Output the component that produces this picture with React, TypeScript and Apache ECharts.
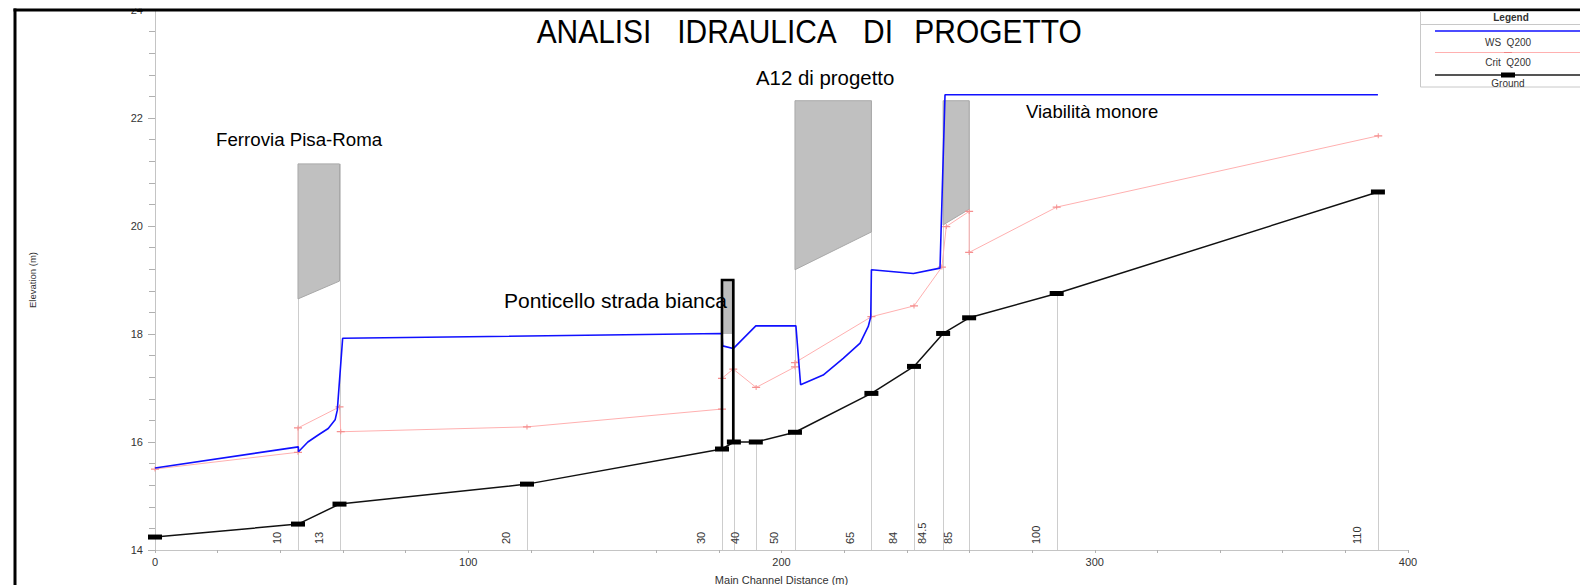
import React, { useEffect, useRef } from 'react';
import * as echarts from 'echarts';

const FONT = '"Liberation Sans", Arial, Helvetica, sans-serif';

// Channel invert (ground) at each cross-section, main channel distance (m) / elevation (m)
const groundDistance = [0, 45.65, 58.9, 118.75, 181.0, 184.8, 191.8, 204.3, 228.7, 242.3, 251.6, 259.9, 287.85, 390.4];
const groundElevation = [14.24, 14.48, 14.85, 15.22, 15.87, 16.0, 16.0, 16.18, 16.9, 17.4, 18.01, 18.3, 18.75, 20.63];

// Water surface profile, Q200
const wsDistance = [0, 45.75, 45.8, 48.8, 52.1, 55.3, 57.5, 58.2, 59.9, 181.0, 181.2, 184.6, 191.8, 204.6, 206.1, 213.3, 219.7, 225.1, 227.7, 228.5, 228.7, 242.1, 250.6, 252.2, 390.4];
const wsElevation = [15.52, 15.91, 15.82, 16.0, 16.13, 16.25, 16.41, 16.59, 17.92, 18.01, 17.78, 17.73, 18.15, 18.15, 17.06, 17.24, 17.55, 17.83, 18.14, 18.32, 19.19, 19.12, 19.22, 22.43, 22.43];

// Critical depth elevation, Q200
const critDistance = [0, 45.65, 45.65, 58.9, 59.3, 118.75, 181.0, 181.0, 184.6, 191.9, 204.3, 204.3, 228.7, 242.3, 251.2, 252.6, 259.9, 259.9, 287.85, 390.5];
const critElevation = [15.5, 15.81, 16.26, 16.65, 16.19, 16.28, 16.61, 17.18, 17.35, 17.01, 17.39, 17.47, 18.32, 18.52, 19.24, 19.99, 20.27, 19.51, 20.35, 21.67];

// River stations: label, distance and top of the station marker line
const sectionLabels = ['10', '13', '20', '30', '', '40', '50', '65', '84', '84.5', '85', '100', '110'];
const sectionDistance = [45.65, 58.9, 118.75, 181.0, 184.8, 191.8, 204.3, 228.7, 242.3, 251.6, 259.9, 287.85, 390.4];
const sectionTop = [21.15, 21.15, 15.22, 19.0, 19.0, 16.0, 22.32, 22.32, 17.4, 22.32, 22.32, 18.75, 20.63];

// Bridge decks
const bridgeStart = [45.65, 204.3, 251.6];
const bridgeEnd = [58.9, 228.7, 259.9];
const bridgeTop = [21.15, 22.32, 22.32];
const bridgeLowStart = [18.65, 19.19, 20.02];
const bridgeLowEnd = [18.98, 19.89, 20.31];

// Small bridge with walls down to the bed
const culvertStart = [181.0];
const culvertEnd = [184.6];
const culvertTop = [19.0];
const culvertLow = [18.0];
const culvertBedStart = [15.87];
const culvertBedEnd = [16.0];

// Axis ticks
const yTicks = { min: 14, max: 24, step: 2 };
const xTicks = { min: 0, max: 400, step: 100 };

const titleWords = ['ANALISI', 'IDRAULICA', 'DI', 'PROGETTO'];
const titleCenters = [594, 757, 878, 998];

const notes = ['Ferrovia Pisa-Roma', 'Ponticello strada bianca', 'A12 di progetto', 'Viabilità monore'];
const noteSizes = [18.7, 21, 20.4, 18.5];
const notePos: [number, number][] = [[216, 139], [504, 300], [756, 78], [1026, 111]];

const legendNames = ['WS  Q200', 'Crit  Q200', 'Ground'];

const critSymbol = 'path://M0,2H8V3H0Z M3.5,0.5H4.5V4.5H3.5Z';

export default function App() {
  const ref = useRef<HTMLDivElement>(null);

  useEffect(() => {
    if (!ref.current) return;
    const chart = echarts.init(ref.current, null, { renderer: 'svg', width: 1580, height: 585 });

    const graphic: any[] = [];
    // title
    titleWords.forEach((w, i) => {
      graphic.push({
        type: 'text', x: titleCenters[i], y: 31, scaleX: 0.88, z: 20,
        style: { text: w, fontSize: 34, fontFamily: FONT, fill: '#000', align: 'center', verticalAlign: 'middle' },
      });
    });
    notes.forEach((t, i) => {
      graphic.push({
        type: 'text', x: notePos[i][0], y: notePos[i][1], z: 20,
        style: { text: t, fontSize: noteSizes[i], fontFamily: FONT, fill: '#000', align: 'left', verticalAlign: 'middle' },
      });
    });
    // page frame
    graphic.push({ type: 'rect', shape: { x: 0, y: 0, width: 1580, height: 8.5 }, style: { fill: '#fff' }, z: 30 });
    graphic.push({ type: 'line', shape: { x1: 13.5, y1: 10, x2: 1580, y2: 10 }, style: { stroke: '#000', lineWidth: 3 }, z: 31 });
    graphic.push({ type: 'line', shape: { x1: 15, y1: 8.5, x2: 15, y2: 585 }, style: { stroke: '#000', lineWidth: 3 }, z: 31 });
    // legend box
    graphic.push({ type: 'rect', shape: { x: 1420.5, y: 11.5, width: 200, height: 75.5 }, style: { fill: '#fff', stroke: '#c8c8c8', lineWidth: 1 }, z: 32 });
    graphic.push({ type: 'line', shape: { x1: 1420.5, y1: 24.5, x2: 1580, y2: 24.5 }, style: { stroke: '#c8c8c8', lineWidth: 1 }, z: 33 });
    graphic.push({ type: 'text', x: 1511, y: 17, z: 33, style: { text: 'Legend', fontSize: 10, fontWeight: 'bold', fontFamily: FONT, fill: '#333', align: 'center', verticalAlign: 'middle' } });
    graphic.push({ type: 'line', shape: { x1: 1435, y1: 31, x2: 1580, y2: 31 }, style: { stroke: '#1010ff', lineWidth: 1.5 }, z: 33 });
    graphic.push({ type: 'line', shape: { x1: 1435, y1: 52.5, x2: 1580, y2: 52.5 }, style: { stroke: '#ffb0b0', lineWidth: 1 }, z: 33 });
    graphic.push({ type: 'rect', shape: { x: 1504, y: 52, width: 8, height: 1 }, style: { fill: '#f08080' }, z: 34 });
    graphic.push({ type: 'line', shape: { x1: 1435, y1: 75, x2: 1580, y2: 75 }, style: { stroke: '#555', lineWidth: 2 }, z: 33 });
    graphic.push({ type: 'rect', shape: { x: 1501, y: 72.5, width: 14, height: 5 }, style: { fill: '#000' }, z: 34 });
    [42, 62, 83].forEach((y, i) => {
      graphic.push({ type: 'text', x: 1508, y, z: 33, style: { text: legendNames[i], fontSize: 10, fontFamily: FONT, fill: '#333', align: 'center', verticalAlign: 'middle' } });
    });

    const option: any = {
      animation: false,
      backgroundColor: '#fff',
      grid: { left: 155, width: 1253, top: 10, height: 540, containLabel: false, outerBoundsMode: 'none' },
      xAxis: {
        type: 'value', min: xTicks.min, max: xTicks.max, interval: xTicks.step,
        name: 'Main Channel Distance (m)', nameLocation: 'middle', nameGap: 24,
        nameTextStyle: { fontSize: 11, fontFamily: FONT, color: '#333' },
        axisLine: { show: true, lineStyle: { color: '#c4c4c4', width: 1 } },
        axisTick: { show: true, length: 3, lineStyle: { color: '#b0b0b0' } },
        minorTick: { show: true, splitNumber: 5, length: 3, lineStyle: { color: '#b0b0b0' } },
        axisLabel: { fontSize: 11, fontFamily: FONT, color: '#333', margin: 6 },
        splitLine: { show: false },
      },
      yAxis: {
        type: 'value', min: yTicks.min, max: yTicks.max, interval: yTicks.step,
        name: 'Elevation (m)', nameLocation: 'middle', nameGap: 118,
        nameTextStyle: { fontSize: 9.5, fontFamily: FONT, color: '#333' },
        axisLine: { show: true, lineStyle: { color: '#c4c4c4', width: 1 } },
        axisTick: { show: true, length: 7, lineStyle: { color: '#b0b0b0' } },
        minorTick: { show: true, splitNumber: 5, length: 6, lineStyle: { color: '#b0b0b0' } },
        axisLabel: { fontSize: 11, fontFamily: FONT, color: '#333', margin: 12 },
        splitLine: { show: false },
      },
      graphic,
      series: [
        {
          // station lines and river station labels
          type: 'custom', silent: true, z: 1,
          data: sectionDistance.map((x, i) => [x, sectionTop[i]]),
          renderItem: (params: any, api: any) => {
            const x = api.value(0);
            const top = api.value(1);
            const b = api.coord([x, yTicks.min]);
            const t = api.coord([x, top]);
            const children: any[] = [
              { type: 'line', shape: { x1: Math.round(b[0]) + 0.5, y1: b[1], x2: Math.round(b[0]) + 0.5, y2: t[1] }, style: { stroke: '#cdcdcd', lineWidth: 1 } },
            ];
            const label = sectionLabels[params.dataIndex];
            if (label) {
              children.push({
                type: 'text', x: b[0] - 21, y: b[1] - 6, rotation: Math.PI / 2,
                style: { text: label, fontSize: 11, fontFamily: FONT, fill: '#333', align: 'left', verticalAlign: 'middle' },
              });
            }
            return { type: 'group', children };
          },
        },
        {
          // bridge decks
          type: 'custom', silent: true, z: 2,
          data: bridgeStart.map((x, i) => [x, bridgeTop[i], bridgeEnd[i], bridgeLowStart[i], bridgeLowEnd[i]]),
          renderItem: (params: any, api: any) => {
            const xs = api.value(0), top = api.value(1), xe = api.value(2), ls = api.value(3), le = api.value(4);
            const pts = [api.coord([xs, top]), api.coord([xe, top]), api.coord([xe, le]), api.coord([xs, ls])];
            return { type: 'polygon', shape: { points: pts }, style: { fill: '#c0c0c0', stroke: '#a8a8a8', lineWidth: 1 } };
          },
        },
        {
          name: 'Crit  Q200', type: 'line', z: 3,
          data: critDistance.map((x, i) => [x, critElevation[i]]),
          symbol: critSymbol, symbolSize: [8, 5], showAllSymbol: true,
          itemStyle: { color: '#f59090' },
          lineStyle: { color: '#ffb0b0', width: 1 },
        },
        {
          name: 'Ground', type: 'line', z: 4,
          data: groundDistance.map((x, i) => [x, groundElevation[i]]),
          symbol: 'rect', symbolSize: [14, 5], showAllSymbol: true,
          itemStyle: { color: '#000' },
          lineStyle: { color: '#111', width: 1.5 },
        },
        {
          name: 'WS  Q200', type: 'line', z: 5,
          data: wsDistance.map((x, i) => [x, wsElevation[i]]),
          symbol: 'none',
          lineStyle: { color: '#1010ff', width: 1.6 },
        },
        {
          // small bridge: deck and walls
          type: 'custom', silent: true, z: 6,
          data: culvertStart.map((x, i) => [x, culvertTop[i], culvertEnd[i], culvertLow[i], culvertBedStart[i], culvertBedEnd[i]]),
          renderItem: (params: any, api: any) => {
            const xs = api.value(0), top = api.value(1), xe = api.value(2), low = api.value(3), bs = api.value(4), be = api.value(5);
            const tl = api.coord([xs, top]), tr = api.coord([xe, top]);
            const bl = api.coord([xs, bs]), br = api.coord([xe, be]);
            const dl = api.coord([xs, low]);
            return {
              type: 'group',
              children: [
                { type: 'rect', shape: { x: tl[0], y: tl[1], width: tr[0] - tl[0], height: dl[1] - tl[1] }, style: { fill: '#bdbdbd' } },
                { type: 'polyline', shape: { points: [bl, tl, tr, br] }, style: { stroke: '#000', lineWidth: 2.6, fill: 'none' } },
              ],
            };
          },
        },
      ],
    };

    chart.setOption(option);
    return () => chart.dispose();
  }, []);

  return <div ref={ref} style={{ position: 'fixed', left: 0, top: 0, width: 1580, height: 585, background: '#fff' }} />;
}
